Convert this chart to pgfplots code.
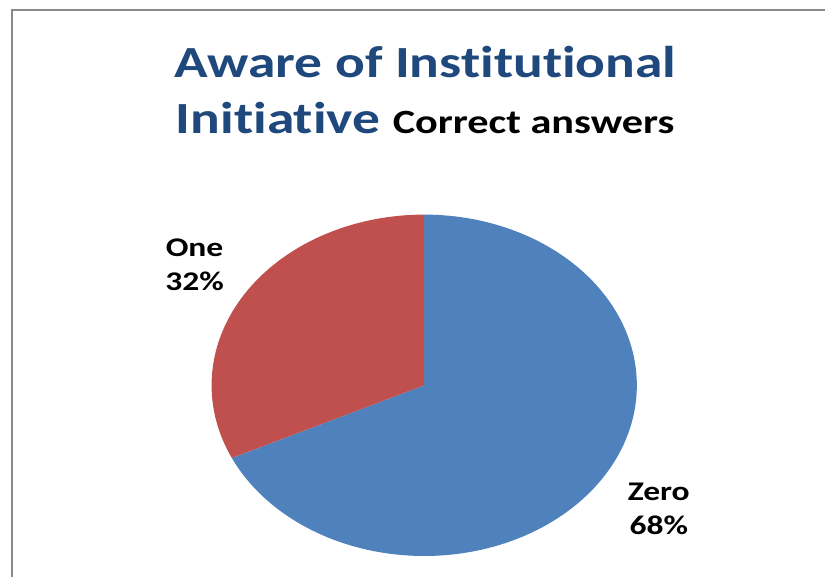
\documentclass[border=0pt]{standalone}
\usepackage{pgfplots}
\usepackage{pgfplotstable}
\pgfplotsset{compat=1.18}
\usepackage{fontspec}
\setmainfont{Carlito}[Ligatures={NoCommon,NoDiscretionary}]
\definecolor{titleblue}{HTML}{1F497D}
\definecolor{sliceblue}{HTML}{4F81BD}
\definecolor{slicered}{HTML}{C0504D}
\definecolor{framegray}{HTML}{8A8A8A}
% the chart is stretched sideways, so is its text
\newcommand{\wide}[1]{\scalebox{1.245}[1]{#1}}

\pgfplotstableread{
label value
Zero  68
One   32
}\piedata

\begin{document}
\begin{tikzpicture}
\pgfplotstablegetelem{0}{value}\of\piedata \let\vzero\pgfplotsretval
\pgfplotstablegetelem{1}{value}\of\piedata \let\vone\pgfplotsretval
\pgfmathsetmacro{\zstart}{90-3.6*\vzero}
\pgfmathsetmacro{\ostop}{90+3.6*\vone}
\begin{axis}[
  hide axis,
  clip=false,
  x=106.5pt, y=85.5pt,
  xmin=-1.995, xmax=1.883,
  ymin=-1.123, ymax=2.257,
]
\path[fill=white] (axis cs:-1.995,-1.123) rectangle (axis cs:1.883,2.257);
\draw[framegray, line width=1.4pt] (axis cs:-1.939,-1.123) -- (axis cs:-1.939,2.199) -- (axis cs:1.883,2.199);

% Zero slice, clockwise from the top
\addplot[draw=none, fill=sliceblue, domain=\zstart:90, samples=150, variable=\t]
  ({cos(\t)},{sin(\t)}) -- (axis cs:0,0) -- cycle;
% One slice
\addplot[draw=none, fill=slicered, domain=90:\ostop, samples=80, variable=\t]
  ({cos(\t)},{sin(\t)}) -- (axis cs:0,0) -- cycle;

\node[align=center, text=titleblue, font=\bfseries\fontsize{22.3}{28}\selectfont]
  at (axis cs:0.005,1.731)
  {\wide{Aware of Institutional}\\
   \wide{Initiative {\color{black}\fontsize{17}{20}\selectfont Correct answers}}};

\node[align=center, font=\bfseries\fontsize{13.5}{17}\selectfont]
  at (axis cs:-1.080,0.708) {\wide{One}\\\wide{\vone\%}};
\node[align=center, font=\bfseries\fontsize{13.5}{17}\selectfont]
  at (axis cs:1.103,-0.725) {\wide{Zero}\\\wide{\vzero\%}};
\end{axis}
\end{tikzpicture}
\end{document}
